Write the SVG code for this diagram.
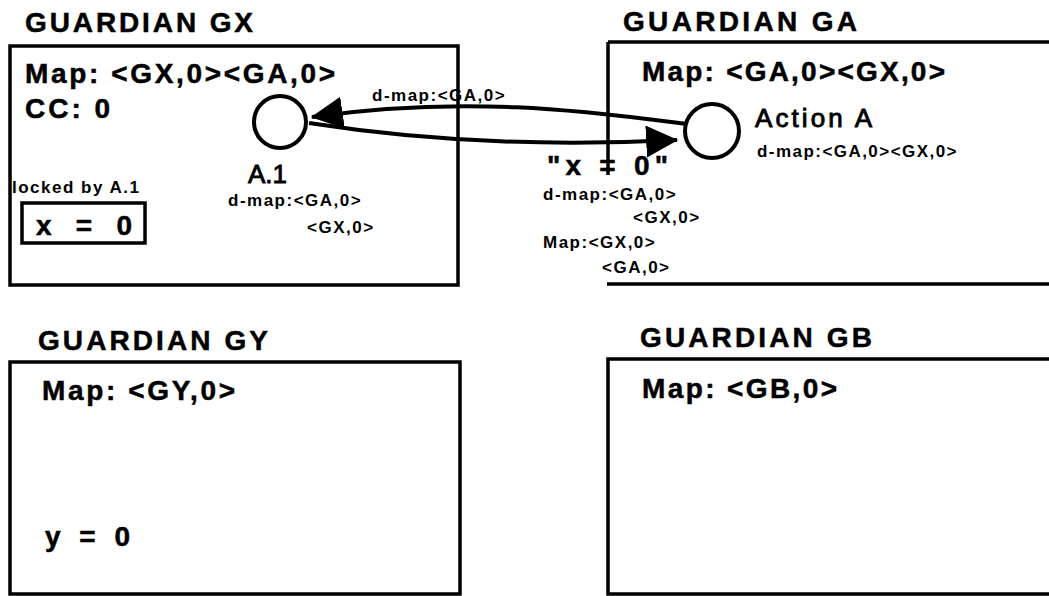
<svg xmlns="http://www.w3.org/2000/svg" width="1049" height="596" viewBox="0 0 1049 596">
<style>
.box{fill:none;stroke:#000;stroke-width:3.5}
.edge{fill:none;stroke:#000;stroke-width:3.5}
.circ{fill:#fff;stroke:#000;stroke-width:4}
.conn{fill:none;stroke:#000;stroke-width:4}
text{font-family:"Liberation Sans",Arial,Helvetica,sans-serif;fill:#000}
.title{font-size:28px;font-weight:bold;stroke:#000;stroke-width:0.5}
.big{font-size:28px;font-weight:bold;stroke:#000;stroke-width:0.5}
.lbl{font-size:26px;stroke:#000;stroke-width:0.9}
.sm{font-size:17px;font-weight:bold;letter-spacing:1.5px}
</style>
<defs>
<marker id="ah" markerUnits="userSpaceOnUse" markerWidth="32" markerHeight="32" viewBox="0 0 28 28" refX="27" refY="14" orient="auto">
<path d="M0,0 L28,14 L0,28 z" fill="#000"/>
</marker>
</defs>
<rect width="1049" height="596" fill="#fff"/>

<g id="guardian-gx">
<text class="title" x="25" y="32" textLength="228" lengthAdjust="spacing">GUARDIAN GX</text>
<rect class="box" x="10" y="46" width="448" height="239"/>
<text class="big" x="25" y="83" textLength="310" lengthAdjust="spacing">Map: &lt;GX,0&gt;&lt;GA,0&gt;</text>
<text class="big" x="25" y="118" textLength="85" lengthAdjust="spacing">CC: 0</text>
<text class="sm" x="12" y="193">locked by A.1</text>
<rect class="box" x="22" y="203" width="123" height="40"/>
<text class="big" x="36" y="235" textLength="96" lengthAdjust="spacing">x = 0</text>
</g>

<g id="node-a1">
<circle class="circ" cx="280" cy="122" r="26"/>
<text class="lbl" x="248" y="183">A.1</text>
<text class="sm" x="228" y="206" letter-spacing="0">d-map:&lt;GA,0&gt;</text>
<text class="sm" x="307" y="233">&lt;GX,0&gt;</text>
</g>

<g id="guardian-ga">
<text class="title" x="623" y="31" textLength="234" lengthAdjust="spacing">GUARDIAN GA</text>
<path class="edge" d="M608,42 H1049 M608,42 V175 M607,284 H1049"/>
<text class="big" x="642" y="81" textLength="303" lengthAdjust="spacing">Map: &lt;GA,0&gt;&lt;GX,0&gt;</text>
</g>

<g id="node-action-a">
<circle class="circ" cx="712" cy="131" r="27"/>
<text class="lbl" x="755" y="127" textLength="117" lengthAdjust="spacing">Action A</text>
<text class="sm" x="757" y="157" textLength="201" lengthAdjust="spacing">d-map:&lt;GA,0&gt;&lt;GX,0&gt;</text>
</g>

<g id="guardian-gy">
<text class="title" x="38" y="350" textLength="230" lengthAdjust="spacing">GUARDIAN GY</text>
<rect class="box" x="10" y="362" width="450" height="232"/>
<text class="big" x="42" y="400" textLength="193" lengthAdjust="spacing">Map: &lt;GY,0&gt;</text>
<text class="big" x="45" y="546" textLength="85" lengthAdjust="spacing">y = 0</text>
</g>

<g id="guardian-gb">
<text class="title" x="640" y="347" textLength="232" lengthAdjust="spacing">GUARDIAN GB</text>
<path class="edge" d="M1049,359 H608 V594 H1049"/>
<text class="big" x="642" y="398" textLength="195" lengthAdjust="spacing">Map: &lt;GB,0&gt;</text>
</g>

<g id="connectors">
<path class="conn" d="M686,124 C600,113 470,94 312,117" marker-end="url(#ah)"/>
<path class="conn" d="M309,123 C430,142 560,146 677,140" marker-end="url(#ah)"/>
<text class="sm" x="372" y="101">d-map:&lt;GA,0&gt;</text>
<text class="big" x="547" y="175" font-size="26" textLength="121" lengthAdjust="spacing">"x = 0"</text>
<text class="sm" x="543" y="200">d-map:&lt;GA,0&gt;</text>
<text class="sm" x="633" y="223">&lt;GX,0&gt;</text>
<text class="sm" x="543" y="248">Map:&lt;GX,0&gt;</text>
<text class="sm" x="602" y="273">&lt;GA,0&gt;</text>
</g>
</svg>
